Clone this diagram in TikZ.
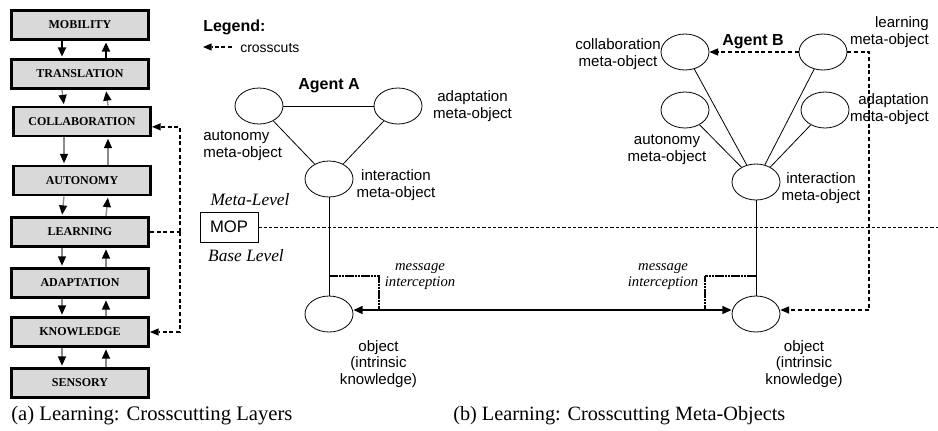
\documentclass[tikz,border=0pt]{standalone}
\usepackage{fontspec}
\setmainfont{Liberation Sans}
\newfontfamily\tnr{Liberation Serif}
\usetikzlibrary{arrows.meta,shapes.geometric,calc}
\definecolor{boxfill}{HTML}{D9D9D9}
\definecolor{arrgray}{HTML}{8A8A8A}
\begin{document}
\begin{tikzpicture}[x=0.75pt,y=-0.75pt,
  layer/.style={draw=black,line width=2.2pt,fill=boxfill,minimum width=102.75pt,minimum height=21.75pt,inner sep=0pt,font=\tnr\bfseries\fontsize{9}{10}\selectfont},
  meta/.style={ellipse,draw=black,line width=0.6pt,minimum width=36pt,minimum height=27pt,inner sep=0pt},
  lbl/.style={font=\fontsize{11.3}{12.5}\selectfont,align=center,inner sep=0pt},
  ital/.style={font=\tnr\itshape\fontsize{11}{12}\selectfont,align=center,inner sep=0pt},
  link/.style={line width=0.6pt,draw=black},
  garr/.style={draw=arrgray,line width=1pt,-{Triangle[black,length=7pt,width=6pt]},shorten >=1pt},
  barr/.style={draw=black,line width=1.5pt,-{Triangle[black,length=7pt,width=6pt]},shorten >=1pt},
  cross/.style={draw=black,line width=1.3pt,dash pattern=on 3pt off 2pt},
  crossarr/.style={cross,-{Triangle[length=6.5pt,width=5.5pt,line width=0pt]}},
  bracket/.style={draw=black,line width=1.4pt,dash pattern=on 2pt off 0.4pt},
  msg/.style={draw=black,line width=1.2pt,{Triangle[length=7pt,width=6pt]}-{Triangle[length=7pt,width=6pt]}}
]
\useasboundingbox (0,0) rectangle (938,430);

% ---------- (a) layers ----------
\node[layer] (mob)    at (80,25)    {MOBILITY};
\node[layer] (trans)  at (80,74)    {TRANSLATION};
\node[layer] (collab) at (82,121.5) {COLLABORATION};
\node[layer] (auto)   at (82,180.5) {AUTONOMY};
\node[layer] (learn)  at (80,232)   {LEARNING};
\node[layer] (adapt)  at (80,283)   {ADAPTATION};
\node[layer] (know)   at (80,332)   {KNOWLEDGE};
\node[layer] (sens)   at (80,383)   {SENSORY};

\draw[barr] ($(mob.south)+(-18,0)$) -- ($(trans.north)+(-18,0)$);
\draw[barr] ($(trans.north)+(26,0)$) -- ($(mob.south)+(26,0)$);
\foreach \a/\b in {trans/collab,collab/auto,auto/learn,learn/adapt,adapt/know,know/sens}{
  \draw[garr] ($(\a.south)+(-18,0)$) -- ($(\b.north)+(-18,0)$);
  \draw[garr] ($(\b.north)+(26,0)$) -- ($(\a.south)+(26,0)$);
}

\draw[cross] (learn.east) -- ++(30,0) coordinate (jL);
\draw[crossarr] (jL) |- ([yshift=-4pt]collab.east);
\draw[crossarr] (jL) |- (know.east);

% ---------- legend ----------
\node[anchor=west,inner sep=0pt,font=\bfseries\fontsize{12}{14}\selectfont] (leg) at (203,27) {Legend:};
\coordinate (lgA) at (232,47);
\coordinate (lgB) at (203,47);
\draw[crossarr] (lgA) -- (lgB);
\node[anchor=west,inner sep=0pt,font=\fontsize{10.5}{12}\selectfont] (lgt) at (240,48) {crosscuts};

% ---------- Agent A ----------
\node[font=\bfseries\fontsize{12}{14}\selectfont,inner sep=0pt] (agA) at (329,86) {Agent A};
\node[meta] (autA) at (259,106) {};
\node[meta] (adaA) at (398,106) {};
\node[meta] (intA) at (329,179) {};
\node[meta] (objA) at (329,314) {};
\draw[link] (autA) -- (adaA);
\draw[link] (autA) -- (intA);
\draw[link] (adaA) -- (intA);
\draw[link] (intA) -- (objA);

\node[lbl] (tadaA) at (472.5,106) {adaptation\\meta-object};
\node[lbl,anchor=west,align=left] (tautA) at (203,146) {autonomy\\meta-object};
\node[lbl] (tintA) at (396,185) {interaction\\meta-object};
\node[lbl] (tobjA) at (378.5,364) {object\\(intrinsic\\knowledge)};

% ---------- MOP ----------
\node[draw=black,line width=0.6pt,minimum width=43.5pt,minimum height=22.5pt,inner sep=0pt,font=\fontsize{12.5}{14}\selectfont] (mop) at (229,227) {MOP};
\coordinate (mopR) at (938,227);
\draw[line width=0.7pt,dash pattern=on 2.5pt off 1.5pt] (mop) -- (mopR);
\node[font=\tnr\itshape\fontsize{13}{15}\selectfont,inner sep=0pt] (ml) at (250,200) {Meta-Level};
\node[font=\tnr\itshape\fontsize{13}{15}\selectfont,inner sep=0pt] (bl) at (246,256) {Base Level};

% ---------- Agent B ----------
\node[font=\bfseries\fontsize{12}{14}\selectfont,inner sep=0pt] (agB) at (753,42) {Agent B};
\node[meta] (colB) at (685,52) {};
\node[meta] (lrnB) at (823,52) {};
\node[meta] (autB) at (685,110) {};
\node[meta] (adaB) at (825,110) {};
\node[meta] (intB) at (756,182) {};
\node[meta] (objB) at (756,314) {};
\draw[link] (colB) -- (intB);
\draw[link] (lrnB) -- (intB);
\draw[link] (autB) -- (intB);
\draw[link] (adaB) -- (intB);
\draw[link] (intB) -- (objB);

\node[lbl] (tcolB) at (618,54) {collaboration\\meta-object};
\node[lbl,anchor=east,align=right] (tlrnB) at (929,32) {learning\\meta-object};
\node[lbl,anchor=east,align=right] (tadaB) at (929,109) {adaptation\\meta-object};
\node[lbl] (tautB) at (667,150) {autonomy\\meta-object};
\node[lbl] (tintB) at (821,188) {interaction\\meta-object};
\node[lbl] (tobjB) at (804,364) {object\\(intrinsic\\knowledge)};

% crosscuts B
\draw[crossarr] (lrnB) -- (colB);
\coordinate (jB1) at (869,52);
\coordinate (jB2) at (869,310);
\draw[crossarr] (lrnB.east) -- (jB1) -- (jB2) -- ([yshift=3pt]objB.east);

% ---------- message interception ----------
\draw[msg] ([yshift=3pt]objA.east) -- ([yshift=3pt]objB.west);
\coordinate (bA1) at (329,276);
\coordinate (bA2) at (379,310);
\draw[bracket] (bA1) -| (bA2);
\coordinate (bB1) at (756,276);
\coordinate (bB2) at (705,310);
\draw[bracket] (bB1) -| (bB2);
\node[ital] (miA) at (420,277) {message\\interception};
\node[ital] (miB) at (663,277) {message\\interception};

% ---------- captions ----------
\node[anchor=west,inner sep=0pt,font=\tnr\fontsize{15.5}{17}\selectfont] (capA) at (11,416) {(a) Learning: Crosscutting Layers};
\node[anchor=west,inner sep=0pt,font=\tnr\fontsize{15.2}{17}\selectfont] (capB) at (453,416) {(b) Learning: Crosscutting Meta-Objects};
\end{tikzpicture}
\end{document}
